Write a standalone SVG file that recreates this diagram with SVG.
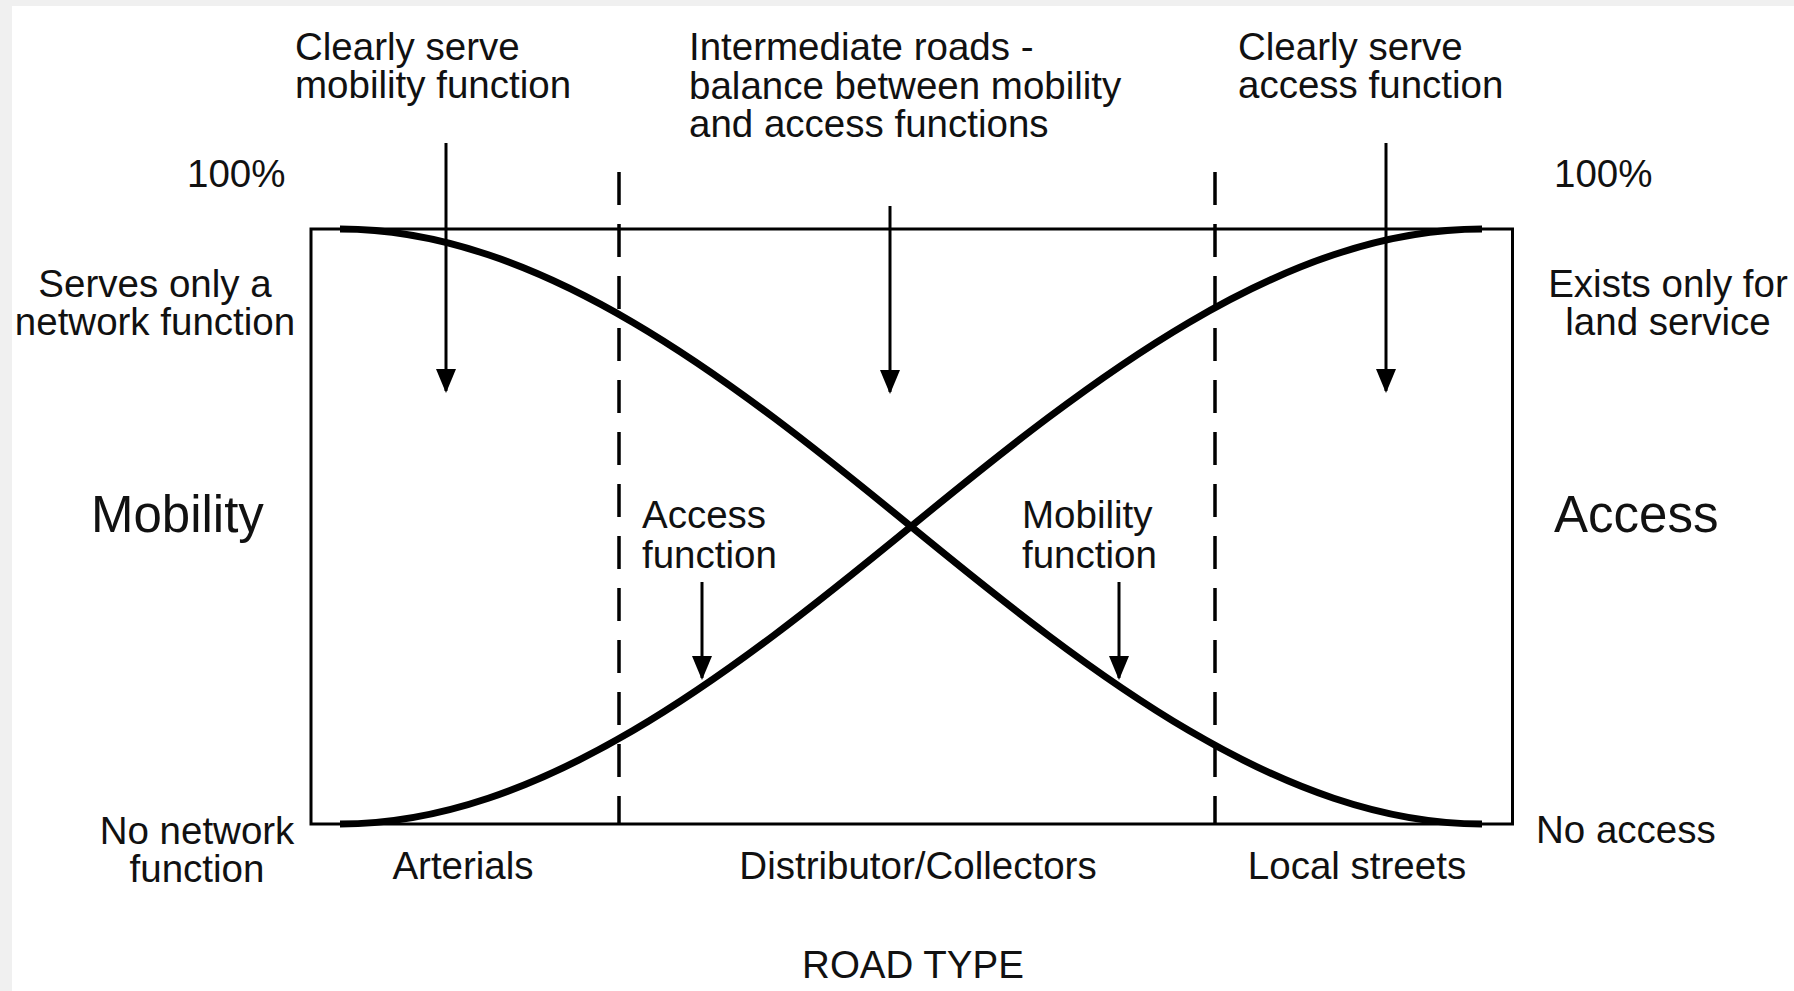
<svg xmlns="http://www.w3.org/2000/svg" width="1794" height="991" viewBox="0 0 1794 991">
  <style>
    text { font-family: "Liberation Sans", Arial, sans-serif; fill: #111; }
    .t { font-size: 38.5px; }
    .big { font-size: 51px; }
    .mid { text-anchor: middle; }
    .box { fill: none; stroke: #000; stroke-width: 3; }
    .dash { fill: none; stroke: #000; stroke-width: 3.5; stroke-dasharray: 33 19; }
    .curve { fill: none; stroke: #000; stroke-width: 7; }
    .arrow { stroke: #000; stroke-width: 3; marker-end: url(#ah); }
  </style>
  <defs>
    <marker id="ah" viewBox="0 0 24 20" refX="22" refY="10" markerUnits="userSpaceOnUse" markerWidth="24" markerHeight="20" orient="auto">
      <path d="M0,0 L24,10 L0,20 Z" fill="#000"/>
    </marker>
  </defs>
  <rect x="0" y="0" width="1794" height="991" fill="#f0f0f0"/>
  <rect x="12" y="6" width="1782" height="985" fill="#ffffff"/>

  <g id="chart">
    <rect class="box" x="311" y="229" width="1201.5" height="595"/>
    <line class="dash" x1="619" y1="172" x2="619" y2="824"/>
    <line class="dash" x1="1215" y1="172" x2="1215" y2="824"/>
    <path id="mobility-curve" class="curve" d="M340,229 C540,229 731,379 911,526.5 C1091,674 1282,824 1482,824"/>
    <path id="access-curve" class="curve" d="M340,824 C540,824 731,674 911,526.5 C1091,379 1282,229 1482,229"/>
  </g>

  <g id="connectors">
    <line class="arrow" x1="446" y1="143" x2="446" y2="391"/>
    <line class="arrow" x1="890" y1="206" x2="890" y2="392"/>
    <line class="arrow" x1="1386" y1="143" x2="1386" y2="391"/>
    <line class="arrow" x1="702" y1="582" x2="702" y2="678"/>
    <line class="arrow" x1="1119" y1="582" x2="1119" y2="678"/>
  </g>

  <g id="label-mobility-clear">
    <text class="t" x="295" y="60">Clearly serve</text>
    <text class="t" x="295" y="98">mobility function</text>
  </g>
  <g id="label-intermediate">
    <text class="t" x="689" y="60">Intermediate roads -</text>
    <text class="t" x="689" y="98.5">balance between mobility</text>
    <text class="t" x="689" y="137">and access functions</text>
  </g>
  <g id="label-access-clear">
    <text class="t" x="1238" y="60">Clearly serve</text>
    <text class="t" x="1238" y="98">access function</text>
  </g>
  <g id="label-100-left"><text class="t" x="187" y="187">100%</text></g>
  <g id="label-100-right"><text class="t" x="1554" y="187">100%</text></g>
  <g id="label-network-only">
    <text class="t mid" x="155" y="297">Serves only a</text>
    <text class="t mid" x="155" y="335">network function</text>
  </g>
  <g id="label-land-service">
    <text class="t mid" x="1668" y="297">Exists only for</text>
    <text class="t mid" x="1668" y="335">land service</text>
  </g>
  <g id="label-mobility"><text class="big" x="91" y="532">Mobility</text></g>
  <g id="label-access"><text class="big" x="1554" y="532">Access</text></g>
  <g id="label-access-function">
    <text class="t" x="642" y="528">Access</text>
    <text class="t" x="642" y="568">function</text>
  </g>
  <g id="label-mobility-function">
    <text class="t" x="1022" y="528">Mobility</text>
    <text class="t" x="1022" y="568">function</text>
  </g>
  <g id="label-no-network">
    <text class="t mid" x="197" y="844">No network</text>
    <text class="t mid" x="197" y="882">function</text>
  </g>
  <g id="label-no-access"><text class="t" x="1536" y="843">No access</text></g>
  <g id="label-arterials"><text class="t mid" x="463" y="879">Arterials</text></g>
  <g id="label-distributor"><text class="t mid" x="918" y="879">Distributor/Collectors</text></g>
  <g id="label-local"><text class="t mid" x="1357" y="879">Local streets</text></g>
  <g id="label-road-type"><text class="t mid" x="913" y="978">ROAD TYPE</text></g>
</svg>
